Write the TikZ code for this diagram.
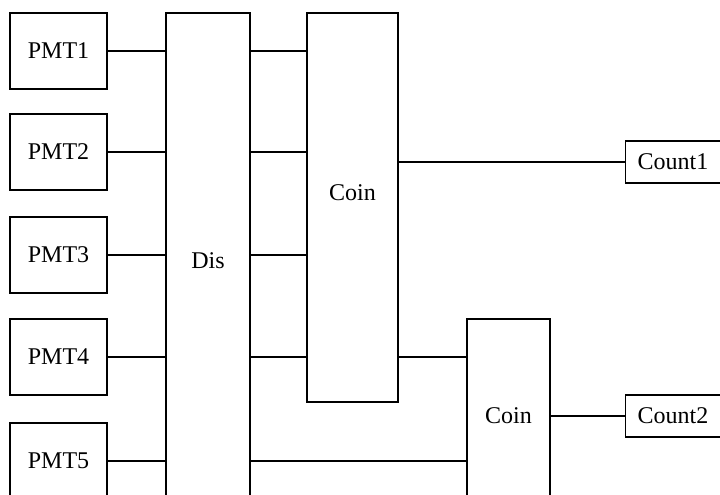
\documentclass[tikz,border=0pt]{standalone}
\usepackage{fontspec}
\setmainfont{Liberation Serif}
\begin{document}
\begin{tikzpicture}[x=1pt,y=-1pt,line width=1.4pt,
  box/.style={draw, inner sep=0pt, font=\fontsize{24}{27}\selectfont},
  pmtbox/.style={box, minimum width=97pt, minimum height=76pt},
  cntbox/.style={box, anchor=west, minimum height=42pt, inner xsep=12pt, text width=100pt, align=left},
  wire/.style={line width=1.4pt}]
\useasboundingbox (0,0) rectangle (720,495);
\clip (0,0) rectangle (720,495);
\fill[white] (0,0) rectangle (720,495);
\node[pmtbox] (pmt1) at (58.5,51) {PMT1};
\node[pmtbox] (pmt2) at (58.5,152) {PMT2};
\node[pmtbox] (pmt3) at (58.5,255) {PMT3};
\node[pmtbox] (pmt4) at (58.5,357) {PMT4};
\node[pmtbox] (pmt5) at (58.5,461) {PMT5};
\node[box, minimum width=84pt, minimum height=496pt] (dis) at (208,261) {Dis};
\node[box, minimum width=91pt, minimum height=389pt, label={[box,draw=none,yshift=15pt]center:Coin}] (coin1) at (352.5,207.5) {};
\node[box, minimum width=83pt, minimum height=194pt] (coin2) at (508.5,416) {Coin};
\node[cntbox] (count1) at (625,162) {Count1};
\node[cntbox] (count2) at (625,416) {Count2};
\foreach \i in {1,...,5} {\draw[wire] (pmt\i.east) -- (pmt\i.east -| dis.west);}
\foreach \i in {1,...,4} {\draw[wire] (dis.east |- pmt\i) -- (coin1.west |- pmt\i);}
\draw[wire] (coin1.east |- count1) -- (count1.west);
\draw[wire] (coin1.east |- pmt4) -- (coin2.west |- pmt4);
\draw[wire] (dis.east |- pmt5) -- (coin2.west |- pmt5);
\draw[wire] (coin2.east |- count2) -- (count2.west);
\end{tikzpicture}
\end{document}
